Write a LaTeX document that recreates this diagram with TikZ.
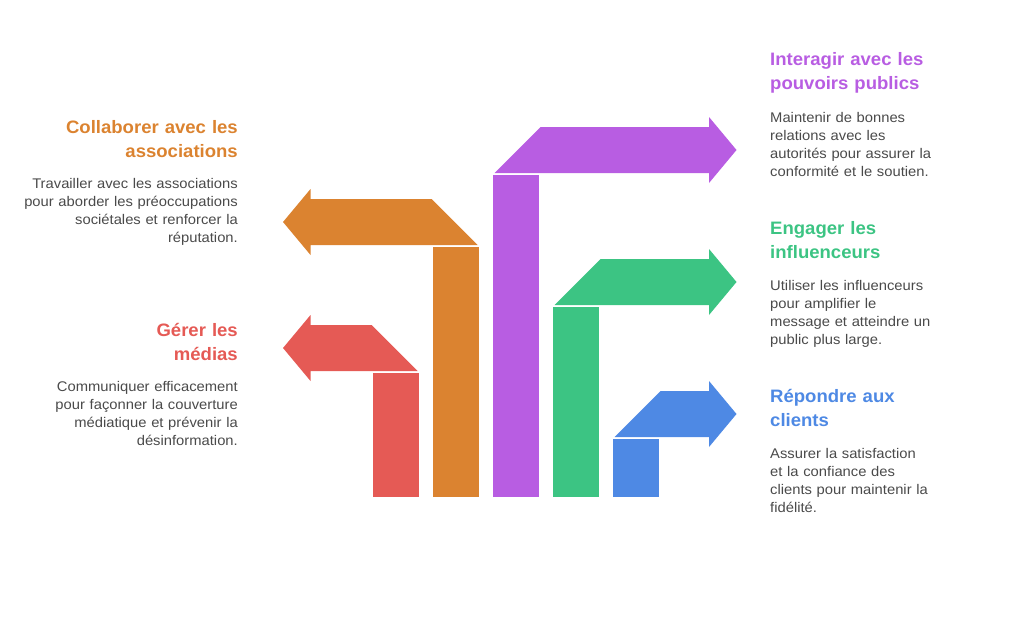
\documentclass[tikz,border=0pt]{standalone}
\usepackage{fontspec}
\setmainfont{Liberation Sans}
\newfontfamily\titlefont[FakeStretch=1.03]{Liberation Sans}
\newfontfamily\bodyfont[FakeStretch=1.055]{Liberation Sans}
\definecolor{cred}{HTML}{E55A55}
\definecolor{corange}{HTML}{DB8330}
\definecolor{cpurple}{HTML}{B85DE2}
\definecolor{cgreen}{HTML}{3CC483}
\definecolor{cblue}{HTML}{4E89E4}
\definecolor{txtgray}{HTML}{4A4A4A}
\begin{document}
\begin{tikzpicture}[x=1pt,y=-1pt,
  titletext/.style={font=\titlefont\bfseries\fontsize{18}{24}\selectfont, inner sep=0pt},
  bodytext/.style={font=\bodyfont\fontsize{14}{18}\selectfont, text=txtgray, inner sep=0pt},
  lefttext/.style={anchor=base east, align=right, text width=230pt},
  righttext/.style={anchor=base west, align=left, text width=220pt}]
\useasboundingbox (0,0) rectangle (1017,642);
% purple
\fill[cpurple] (494.5,173) -- (540.5,127) -- (709,127) -- (709,117) -- (736.5,150) -- (709,183) -- (709,173) -- cycle;
\fill[cpurple] (493,175) rectangle (539,497);
% green
\fill[cgreen] (554.5,305) -- (600.5,259) -- (709,259) -- (709,249) -- (736.5,282) -- (709,315) -- (709,305) -- cycle;
\fill[cgreen] (553,307) rectangle (599,497);
% blue
\fill[cblue] (614.5,437) -- (660.5,391) -- (709,391) -- (709,381) -- (736.5,414) -- (709,447) -- (709,437) -- cycle;
\fill[cblue] (613,439) rectangle (659,497);
% orange
\fill[corange] (477.5,245) -- (431.5,199) -- (310.5,199) -- (310.5,189) -- (283,222) -- (310.5,255) -- (310.5,245) -- cycle;
\fill[corange] (433,247) rectangle (479,497);
% red
\fill[cred] (417.5,371) -- (371.5,325) -- (310.5,325) -- (310.5,315) -- (283,348) -- (310.5,381) -- (310.5,371) -- cycle;
\fill[cred] (373,373) rectangle (419,497);
% texts left
\node[titletext, text=corange, lefttext] (t1) at (238,133) {Collaborer avec les\\associations};
\node[bodytext, lefttext] (b1) at (238,188) {Travailler avec les associations\\pour aborder les préoccupations\\sociétales et renforcer la\\réputation.};
\node[titletext, text=cred, lefttext] (t2) at (238,336) {Gérer les\\médias};
\node[bodytext, lefttext] (b2) at (238,391) {Communiquer efficacement\\pour façonner la couverture\\médiatique et prévenir la\\désinformation.};
% texts right
\node[titletext, text=cpurple, righttext] (t3) at (770,66) {Interagir avec les\\pouvoirs publics};
\node[bodytext, righttext] (b3) at (770,122) {Maintenir de bonnes\\relations avec les\\autorités pour assurer la\\conformité et le soutien.};
\node[titletext, text=cgreen, righttext] (t4) at (770,234) {Engager les\\influenceurs};
\node[bodytext, righttext] (b4) at (770,290) {Utiliser les influenceurs\\pour amplifier le\\message et atteindre un\\public plus large.};
\node[titletext, text=cblue, righttext] (t5) at (770,402) {Répondre aux\\clients};
\node[bodytext, righttext] (b5) at (770,458) {Assurer la satisfaction\\et la confiance des\\clients pour maintenir la\\fidélité.};
\end{tikzpicture}
\end{document}
